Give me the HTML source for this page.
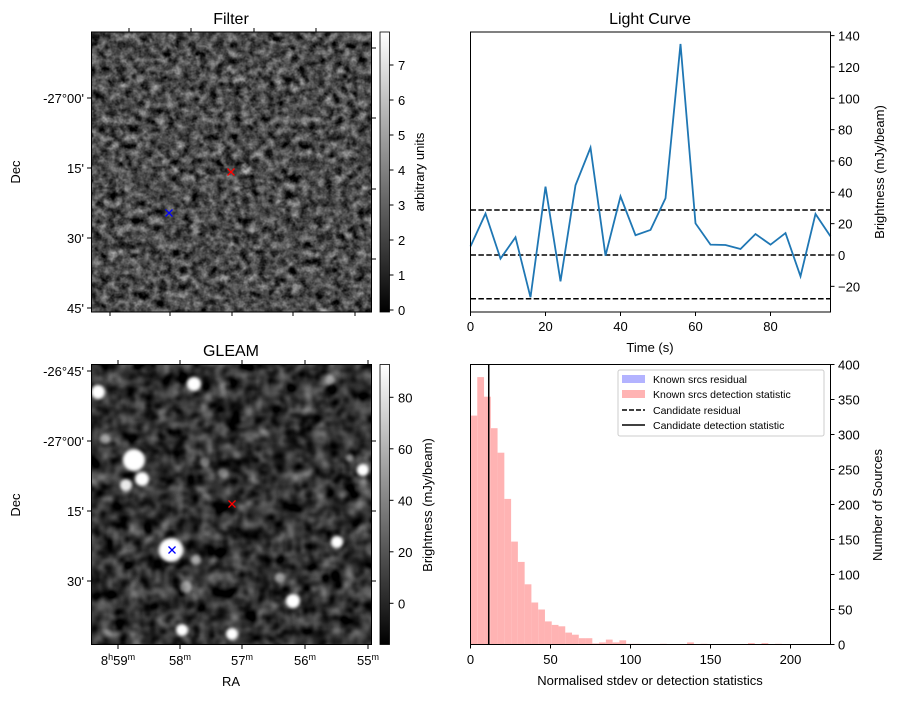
<!DOCTYPE html>
<html><head><meta charset="utf-8">
<style>
body{margin:0;background:#fff;width:898px;height:699px;overflow:hidden}
svg text{font-family:"Liberation Sans","DejaVu Sans",sans-serif;fill:#000}
</style></head>
<body>
<svg id="fig" width="898" height="699" xmlns="http://www.w3.org/2000/svg">
<defs>
 <filter id="noiseA" x="0" y="0" width="100%" height="100%" color-interpolation-filters="sRGB">
  <feTurbulence type="fractalNoise" baseFrequency="0.12" numOctaves="3" seed="4"/>
  <feColorMatrix type="matrix" values="0.33 0.33 0.33 0 0  0.33 0.33 0.33 0 0  0.33 0.33 0.33 0 0  0 0 0 0 1"/>
  <feComponentTransfer><feFuncR type="linear" slope="1.5" intercept="-0.45"/><feFuncG type="linear" slope="1.5" intercept="-0.45"/><feFuncB type="linear" slope="1.5" intercept="-0.45"/></feComponentTransfer>
 </filter>
 <filter id="noiseB" x="0" y="0" width="100%" height="100%" color-interpolation-filters="sRGB">
  <feTurbulence type="fractalNoise" baseFrequency="0.07" numOctaves="2" seed="9"/>
  <feColorMatrix type="matrix" values="0.33 0.33 0.33 0 0  0.33 0.33 0.33 0 0  0.33 0.33 0.33 0 0  0 0 0 0 1"/>
  <feComponentTransfer><feFuncR type="linear" slope="1.3" intercept="-0.45"/><feFuncG type="linear" slope="1.3" intercept="-0.45"/><feFuncB type="linear" slope="1.3" intercept="-0.45"/></feComponentTransfer>
 </filter>
 <filter id="blur3"><feGaussianBlur stdDeviation="1.5"/></filter>
 <linearGradient id="cbar" x1="0" y1="1" x2="0" y2="0"><stop offset="0" stop-color="#000"/><stop offset="1" stop-color="#fff"/></linearGradient>
 <clipPath id="clipB"><rect x="91.5" y="364.5" width="280" height="280"/></clipPath>
</defs>

<g>
 <text x="231" y="24" font-size="16" text-anchor="middle">Filter</text>
 <rect x="91.5" y="32" width="280" height="280" fill="#fff" filter="url(#noiseA)"/>
 <rect x="91.5" y="32" width="280" height="280" fill="none" stroke="#000" stroke-width="1"/>
 <g id="filterTicks"></g>
 <path d="M227.5,168.5 l7,7 M234.5,168.5 l-7,7" stroke="red" stroke-width="1.3"/>
 <path d="M165.5,209.5 l7,7 M172.5,209.5 l-7,7" stroke="blue" stroke-width="1.3"/>
 <text transform="translate(20,172) rotate(-90)" font-size="13" text-anchor="middle">Dec</text>
 <rect x="380" y="32" width="9.5" height="280" fill="url(#cbar)" stroke="#000" stroke-width="0.8"/>
 <g id="cbarA"></g>
 <text transform="translate(424,172) rotate(-90)" font-size="13" text-anchor="middle">arbitrary units</text>
</g>

<g>
 <text x="231" y="356" font-size="16" text-anchor="middle">GLEAM</text>
 <g clip-path="url(#clipB)">
  <rect x="91.5" y="364.5" width="280" height="280" fill="#fff" filter="url(#noiseB)"/>
  <g id="blobs" filter="url(#blur3)"></g>
 </g>
 <rect x="91.5" y="364.5" width="280" height="280" fill="none" stroke="#000" stroke-width="1"/>
 <g id="gleamTicks"></g>
 <path d="M228.5,500.5 l7,7 M235.5,500.5 l-7,7" stroke="red" stroke-width="1.3"/>
 <path d="M168.5,546.5 l7,7 M175.5,546.5 l-7,7" stroke="blue" stroke-width="1.3"/>
 <text transform="translate(20,505) rotate(-90)" font-size="13" text-anchor="middle">Dec</text>
 <text x="231" y="686" font-size="13" text-anchor="middle">RA</text>
 <rect x="380" y="364.5" width="9.5" height="280" fill="url(#cbar)" stroke="#000" stroke-width="0.8"/>
 <g id="cbarB"></g>
 <text transform="translate(432,505) rotate(-90)" font-size="13" text-anchor="middle">Brightness (mJy/beam)</text>
</g>

<g>
 <text x="650" y="24" font-size="16" text-anchor="middle">Light Curve</text>
 <g id="lc"></g>
 <rect x="470.5" y="32" width="360" height="280" fill="none" stroke="#000" stroke-width="1"/>
 <text x="650" y="352" font-size="13" text-anchor="middle">Time (s)</text>
 <text transform="translate(884,172) rotate(-90)" font-size="13" text-anchor="middle">Brightness (mJy/beam)</text>
</g>

<g>
 <g id="hist"></g>
 <rect x="470.5" y="364.5" width="360" height="280" fill="none" stroke="#000" stroke-width="1"/>
 <text x="650" y="685" font-size="13" text-anchor="middle">Normalised stdev or detection statistics</text>
 <text transform="translate(882,505) rotate(-90)" font-size="13" text-anchor="middle">Number of Sources</text>
 <g>
  <rect x="618" y="370" width="206" height="66" fill="#fff" fill-opacity="0.8" stroke="#ccc" rx="2"/>
  <rect x="622" y="375" width="23" height="8" fill="#b3b3ff"/>
  <text x="653" y="383" font-size="10.5">Known srcs residual</text>
  <rect x="622" y="390" width="23" height="8" fill="#ffb3b3"/>
  <text x="653" y="398" font-size="10.5">Known srcs detection statistic</text>
  <line x1="622" y1="410" x2="645" y2="410" stroke="#000" stroke-width="1.5" stroke-dasharray="5,2"/>
  <text x="653" y="414" font-size="10.5">Candidate residual</text>
  <line x1="622" y1="425" x2="645" y2="425" stroke="#000" stroke-width="1.5"/>
  <text x="653" y="429" font-size="10.5">Candidate detection statistic</text>
 </g>
</g>
</svg>
<script>
const NS="http://www.w3.org/2000/svg";
const lcTimes=[0,4,8,12,16,20,24,28,32,36,40,44,48,52,56,60,64,68,72,76,80,84,88,92,96];
const lcValues=[5.5,26.4,-2.3,11.3,-27,43.6,-16.8,44.5,68.5,-0.4,37.4,12.6,16,36.2,134.7,20.2,6.6,6.4,3.8,13.4,6.6,14,-13.6,26.2,11.9];
const lcThresholds=[28.7,0,-27.9];
const lcXTicks=[0,20,40,60,80];
const lcYTicks=[-20,0,20,40,60,80,100,120,140];
const histBinWidth=4.23;
const histCounts=[327,382,354,309,274,208,147,118,86,60,50,33,28,26,17,14,9,9,1.5,3,7,3,6,1,1,0,0,0,1,0,0,0,3,0,1,0,0,0,0,0,0,2,0,2,0,1,0,0,0,0,0,0];
const candidateStat=[11.4];
const histXTicks=[0,50,100,150,200];
const histYTicks=[0,50,100,150,200,250,300,350,400];
const decLabelsA=["-27°00'","15'","30'","45'"];
const cbarATicks=[0,1,2,3,4,5,6,7];
const decLabelsB=["-26°45'","-27°00'","15'","30'"];
const raLabels=[["8","59"],["","58"],["","57"],["","56"],["","55"]];
const cbarBTicks=[0,20,40,60,80];

function el(tag,attrs,parent){const e=document.createElementNS(NS,tag);for(const k in attrs)e.setAttribute(k,attrs[k]);parent.appendChild(e);return e;}
function txt(x,y,s,anchor,parent,size){const t=el('text',{x:x,y:y,'font-size':size||13,'text-anchor':anchor||'start'},parent);t.textContent=s;return t;}

(function(){
 const g=document.getElementById('lc');
 const X=v=>470.5+v/96*360, Y=v=>255-v*1.567;
 lcThresholds.forEach(v=>{const l=el('line',{x1:470.5,x2:830.5,y1:Y(v),y2:Y(v),stroke:'#000','stroke-width':1.5,'stroke-dasharray':'5.5,2.4'},g);
  
  });
 const p=el('polyline',{points:lcTimes.map((t,i)=>X(t)+','+Y(lcValues[i])).join(' '),fill:'none',stroke:'#1f77b4','stroke-width':1.8},g);
 
 
 lcXTicks.forEach(v=>{el('line',{x1:X(v),x2:X(v),y1:312,y2:316,stroke:'#000'},g);const t=txt(X(v),331,String(v),'middle',g);
  
  });
 lcYTicks.forEach(v=>{el('line',{x1:830.5,x2:834.5,y1:Y(v),y2:Y(v),stroke:'#000'},g);const t=txt(838,Y(v)+5,v<0?'\u2212'+(-v):String(v),'start',g);
  
  });
})();

(function(){
 const g=document.getElementById('hist');
 const X=v=>470.5+v/225*360, Y=v=>644.5-v*0.7;
 histCounts.forEach((c,i)=>{if(c<=0)return;const r=el('rect',{x:X(i*histBinWidth),y:Y(c),width:X(histBinWidth)-470.5,height:644.5-Y(c),fill:'#ffb3b3'},g);
  
  });
 candidateStat.forEach(v=>{const l=el('line',{x1:X(v),x2:X(v),y1:364.5,y2:644.5,stroke:'#000','stroke-width':1.5},g);
  
  });
 histXTicks.forEach(v=>{el('line',{x1:X(v),x2:X(v),y1:644.5,y2:648.5,stroke:'#000'},g);const t=txt(X(v),664,String(v),'middle',g);
  
  });
 histYTicks.forEach(v=>{el('line',{x1:830.5,x2:834.5,y1:Y(v),y2:Y(v),stroke:'#000'},g);const t=txt(838,Y(v)+5,String(v),'start',g);
  
  });
})();

(function(){
 const g=document.getElementById('filterTicks');
 [98,168,238,308].forEach((y,i)=>{el('line',{x1:87,x2:91.5,y1:y,y2:y,stroke:'#000'},g);const t=txt(84,y+5,decLabelsA[i],'end',g);
  
  });
 [48,118,189,259].forEach(y=>el('line',{x1:371.5,x2:376,y1:y,y2:y,stroke:'#000'},g));
 [129,191,254,316].forEach(x=>el('line',{x1:x,x2:x,y1:28,y2:32,stroke:'#000'},g));
 [110,170,232,293,355].forEach(x=>el('line',{x1:x,x2:x,y1:312,y2:316,stroke:'#000'},g));
 const c=document.getElementById('cbarA');
 cbarATicks.forEach(v=>{const y=310-v*35;el('line',{x1:389.5,x2:393.5,y1:y,y2:y,stroke:'#000'},c);const t=txt(398,y+5,String(v),'start',c);
  
  });
})();

(function(){
 const g=document.getElementById('gleamTicks');
 [371,441,511,581].forEach((y,i)=>{el('line',{x1:87,x2:91.5,y1:y,y2:y,stroke:'#000'},g);const t=txt(84,y+5,decLabelsB[i],'end',g);
  
  });
 [441,511,581].forEach(y=>el('line',{x1:371.5,x2:376,y1:y,y2:y,stroke:'#000'},g));
 [118,180,242,305,368].forEach((x,i)=>{el('line',{x1:x,x2:x,y1:644.5,y2:649,stroke:'#000'},g);el('line',{x1:x,x2:x,y1:360,y2:364.5,stroke:'#000'},g);
  const t=el('text',{x:x,y:665,'font-size':13,'text-anchor':'middle'},g);
  
  
  const lb=raLabels[i];
  if(lb[0]){t.appendChild(document.createTextNode(lb[0]));const s=el('tspan',{'font-size':9,dy:-5},t);s.textContent='h';const s2=el('tspan',{dy:5},t);s2.textContent=lb[1];}
  else t.appendChild(document.createTextNode(lb[1]));
  const m=el('tspan',{'font-size':9,dy:-5},t);m.textContent='m';});
 const c=document.getElementById('cbarB');
 cbarBTicks.forEach(v=>{const y=603.3-v*2.575;el('line',{x1:389.5,x2:393.5,y1:y,y2:y,stroke:'#000'},c);const t=txt(398,y+5,String(v),'start',c);
  
  });
 const b=document.getElementById('blobs');
 [[98,392,7,1],[194,384,7,1],[330,380,5,0.5],[105,439,5,0.5],[134,460,11,1],[142,479,7,1],[126,485,6,0.9],[205,462,5,0.4],[223,473,5,0.4],[363,470,6,1],[337,542,6,1],[171,550,12,1],[293,601,7,1],[182,630,6,1],[232,634,6,1],[186,587,6,0.5],[280,578,5,0.5],[350,458,4,0.5],[196,560,5,0.5]].forEach(d=>{
  const e=el('circle',{cx:d[0],cy:d[1],r:d[2],fill:'#fff','fill-opacity':d[3]},b);
  
  });
})();
</script>
</body></html>
